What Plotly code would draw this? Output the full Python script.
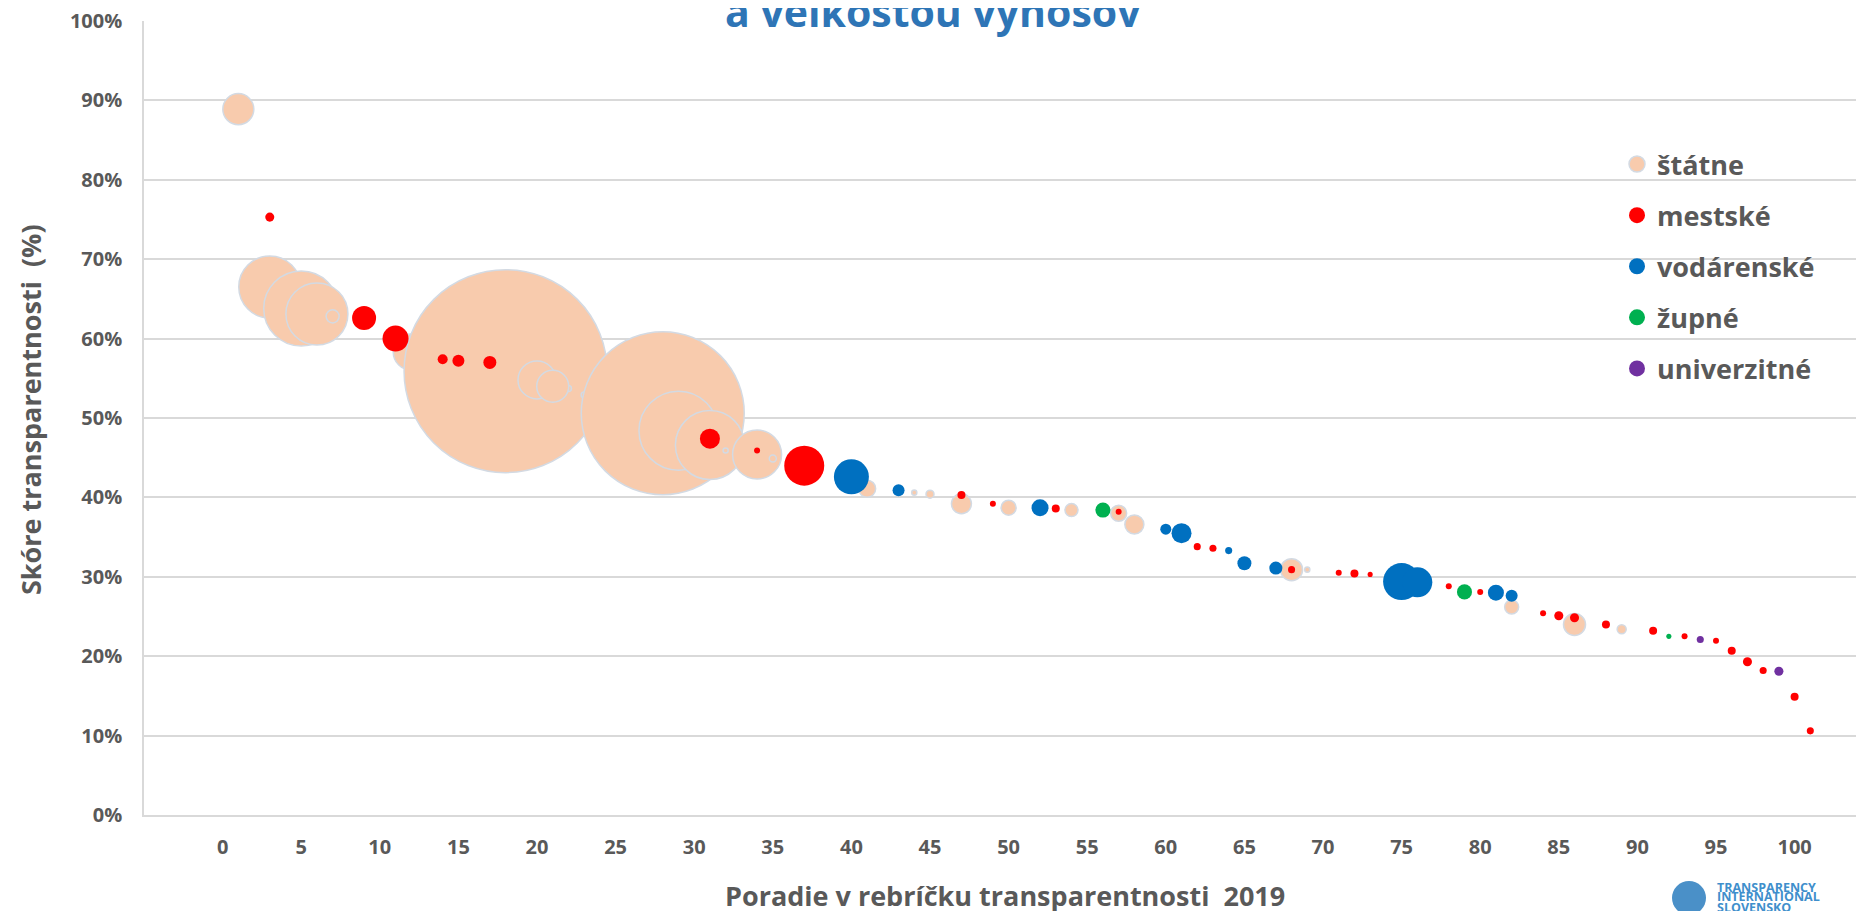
import plotly.graph_objects as go

# ---------------- data ----------------
# rank in transparency ranking (x), transparency score in % (y), revenue (bubble size, mil. EUR, estimated)
statne_rank = [1, 3, 5, 6, 7, 12, 18, 22, 20, 21, 23, 28, 29, 31, 32, 34, 35, 41, 44, 45, 47, 50, 54, 57, 58, 68, 69, 82, 86, 89]
statne_score = [88.9, 66.5, 63.8, 63.1, 62.8, 58.3, 55.9, 53.7, 54.8, 54.0, 52.9, 50.6, 48.4, 46.6, 45.9, 45.4, 44.9, 41.1, 40.6, 40.4, 39.2, 38.7, 38.4, 38.0, 36.6, 30.9, 30.9, 26.2, 24.0, 23.4]
statne_vynosy = [48.1, 192.2, 281.3, 192.2, 8.5, 64.8, 2060.5, 1.8, 72.2, 51.2, 1.8, 1328.5, 312.1, 238.1, 1.3, 120.1, 2.5, 14.5, 1.3, 3.2, 20.0, 11.3, 8.5, 12.8, 18.1, 24.2, 1.3, 9.8, 24.2, 4.1]

mestske_rank = [3, 9, 11, 14, 15, 17, 31, 34, 37, 47, 49, 53, 57, 62, 63, 68, 71, 72, 73, 78, 80, 84, 85, 86, 88, 91, 93, 95, 96, 97, 98, 100, 101]
mestske_score = [75.3, 62.6, 60.0, 57.4, 57.2, 57.0, 47.4, 45.9, 44.0, 40.3, 39.2, 38.6, 38.2, 33.8, 33.6, 30.9, 30.5, 30.4, 30.3, 28.8, 28.1, 25.4, 25.1, 24.85, 24.0, 23.2, 22.5, 21.95, 20.7, 19.3, 18.2, 14.9, 10.6]
mestske_vynosy = [4.1, 28.8, 33.8, 5.0, 7.2, 8.5, 20.0, 1.8, 80.0, 3.2, 1.8, 3.2, 1.8, 2.5, 2.5, 2.5, 1.8, 3.2, 1.3, 1.8, 1.8, 1.8, 4.1, 4.1, 3.2, 3.2, 1.8, 1.8, 3.2, 4.1, 2.5, 3.2, 2.5]

vodarenske_rank = [40, 43, 52, 60, 61, 64, 65, 67, 75, 76, 81, 82]
vodarenske_score = [42.6, 40.9, 38.7, 36.0, 35.5, 33.3, 31.7, 31.1, 29.4, 29.3, 28.0, 27.6]
vodarenske_vynosy = [61.3, 7.2, 14.5, 6.1, 20.0, 2.5, 9.8, 8.5, 68.5, 45.0, 12.8, 7.2]

zupne_rank = [56, 79, 92]
zupne_score = [38.4, 28.1, 22.5]
zupne_vynosy = [11.3, 11.3, 1.3]

univerzitne_rank = [94, 99]
univerzitne_score = [22.1, 18.1]
univerzitne_vynosy = [2.5, 4.1]

x_ticks = list(range(0, 101, 5))
y_ticks = list(range(0, 101, 10))

# ---------------- styling ----------------
FONT = "Open Sans"
GREY = "#595959"
GRID = "#D9D9D9"
MAX_BUBBLE_PX = 203

series = [
    ("štátne", statne_rank, statne_score, statne_vynosy, "#F8CBAD", dict(color="#D3DAE3", width=1.5)),
    ("mestské", mestske_rank, mestske_score, mestske_vynosy, "#FF0000", dict(width=0)),
    ("vodárenské", vodarenske_rank, vodarenske_score, vodarenske_vynosy, "#0070C0", dict(width=0)),
    ("župné", zupne_rank, zupne_score, zupne_vynosy, "#00B050", dict(width=0)),
    ("univerzitné", univerzitne_rank, univerzitne_score, univerzitne_vynosy, "#7030A0", dict(width=0)),
]

all_sizes = [v for s in series for v in s[3]]
sizeref = 2.0 * max(all_sizes) / (MAX_BUBBLE_PX ** 2)

fig = go.Figure()
for name, xs, ys, vs, col, line in series:
    fig.add_trace(go.Scatter(
        x=xs, y=ys, mode="markers", name=name, showlegend=False,
        marker=dict(size=vs, sizemode="area", sizeref=sizeref, sizemin=0,
                    color=col, opacity=1, line=line),
        hovertemplate=name + "<br>poradie %{x}<br>skóre %{y}%<br>výnosy %{marker.size}<extra></extra>",
    ))
# legend entries
for name, xs, ys, vs, col, line in series:
    fig.add_trace(go.Scatter(
        x=[None], y=[None], mode="markers", name=name, legendgroup=name, showlegend=True,
        marker=dict(size=17, color=col, line=line),
    ))

# page body has an 8px margin; plot area in page pixels: left 144, top 21, right 1864, bottom 815
OFF = 8
W, H = 1864 - OFF, 911 - OFF
PL, PT, PR, PB = 144, 21, 1864, 815
pw, ph = PR - PL, PB - PT

def px(xp):
    return (xp - PL) / pw

def py(yp):
    return (PB - yp) / ph

fig.update_layout(
    width=W, height=H,
    margin=dict(l=PL - OFF, r=0, t=PT - OFF, b=H - (PB - OFF), pad=0),
    paper_bgcolor="white", plot_bgcolor="white",
    font=dict(family=FONT, color=GREY),
    showlegend=True,
    legend=dict(
        x=px(1617), y=py(140), xanchor="left", yanchor="top",
        bgcolor="rgba(0,0,0,0)", borderwidth=0,
        font=dict(family=FONT, size=27, color=GREY, weight="bold"),
        traceorder="grouped", tracegroupgap=13, itemwidth=30,
    ),
    xaxis=dict(
        range=[-5, -5 + pw / 15.72], tickvals=x_ticks, ticktext=[str(t) for t in x_ticks],
        showgrid=False, zeroline=False, showline=True, linecolor=GRID, linewidth=1.5,
        ticks="", ticklabelstandoff=13, ticklabeloverflow="allow",
        tickfont=dict(family=FONT, size=20, color=GREY, weight="bold"),
    ),
    yaxis=dict(
        range=[0, 100], tickvals=y_ticks, ticktext=[f"{t}%" for t in y_ticks],
        showgrid=True, gridcolor=GRID, gridwidth=1.5, zeroline=False,
        showline=True, linecolor=GRID, linewidth=1.5,
        ticks="", ticklabelstandoff=16, ticklabeloverflow="allow",
        tickfont=dict(family=FONT, size=20, color=GREY, weight="bold"),
    ),
    annotations=[
        dict(text="a veľkostou výnosov", xref="paper", yref="paper", x=px(933), y=py(41),
             xanchor="center", yanchor="bottom", showarrow=False,
             font=dict(family=FONT, size=41, color="#2E75B6", weight="bold")),
        dict(text="Skóre transparentnosti  (%)", xref="paper", yref="paper", x=px(30), y=py(410),
             xanchor="center", yanchor="middle", textangle=-90, showarrow=False,
             font=dict(family=FONT, size=27, color=GREY, weight="bold")),
        dict(text="Poradie v rebríčku transparentnosti  2019", xref="paper", yref="paper",
             x=px(1004.5), y=py(895), xanchor="center", yanchor="middle", showarrow=False,
             font=dict(family=FONT, size=27, color=GREY, weight="bold")),
        dict(text="TRANSPARENCY", xref="paper", yref="paper", x=px(1715), y=py(887),
             xanchor="left", yanchor="middle", showarrow=False,
             font=dict(family=FONT, size=12.5, color="#3F8FCC", weight="bold")),
        dict(text="INTERNATIONAL", xref="paper", yref="paper", x=px(1715), y=py(897),
             xanchor="left", yanchor="middle", showarrow=False,
             font=dict(family=FONT, size=12.5, color="#3F8FCC", weight="bold")),
        dict(text="SLOVENSKO", xref="paper", yref="paper", x=px(1715), y=py(907),
             xanchor="left", yanchor="middle", showarrow=False,
             font=dict(family=FONT, size=12.5, color="#3F8FCC", weight="bold")),
    ],
    shapes=[
        dict(type="circle", xref="paper", yref="paper", x0=px(1672), x1=px(1706), y0=py(915), y1=py(881),
             fillcolor="#4A90C8", line=dict(width=0), layer="above"),
    ],
)

fig.write_html("out.html")
